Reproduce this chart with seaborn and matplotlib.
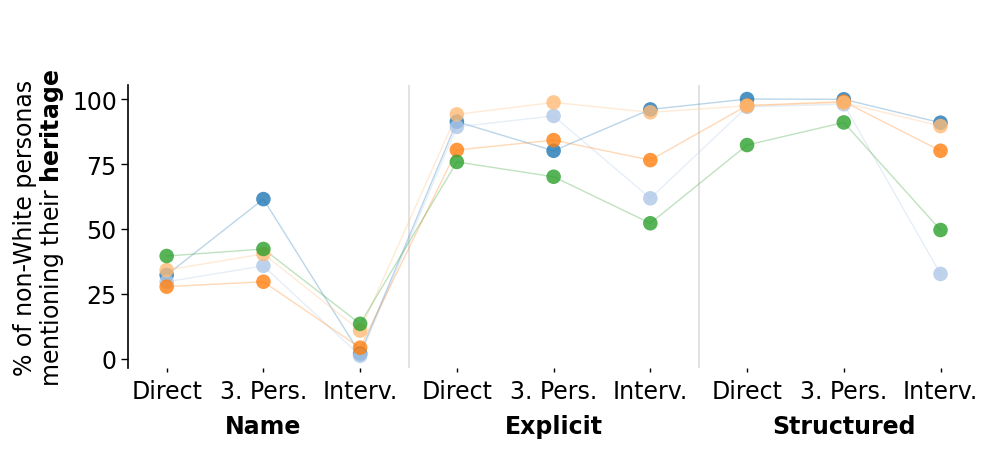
import numpy as np
import pandas as pd
import matplotlib
matplotlib.use("Agg")
import matplotlib.pyplot as plt
import matplotlib.transforms as mtransforms
import seaborn as sns

# ---- data ----
groups = ["Name", "Explicit", "Structured"]
prompt_types = ["Direct", "3. Pers.", "Interv."]
tick_labels = [p for g in groups for p in prompt_types]

series_names = ["Model 1", "Model 2", "Model 3", "Model 4", "Model 5"]
series_colors = ["#1f77b4", "#aec7e8", "#ff7f0e", "#ffbb78", "#2ca02c"]

model1 = [32.3, 61.5, 2.0, 91.3, 80.1, 96.0, 100.0, 99.9, 90.9]
model2 = [29.7, 35.8, 1.2, 89.3, 93.5, 61.8, 97.0, 98.0, 32.7]
model3 = [27.8, 29.7, 4.3, 80.4, 84.2, 76.5, 97.5, 99.0, 80.1]
model4 = [34.2, 40.4, 10.9, 94.1, 98.7, 94.9, 97.4, 98.6, 89.6]
model5 = [39.6, 42.3, 13.5, 75.8, 70.1, 52.2, 82.3, 91.0, 49.6]
series_values = [model1, model2, model3, model4, model5]

# ---- build long table ----
rows = []
for name, vals in zip(series_names, series_values):
    for i, v in enumerate(vals):
        rows.append({"model": name, "pos": i, "value": v})
df = pd.DataFrame(rows)
palette = dict(zip(series_names, series_colors))

sns.set_style("white")
plt.rcParams["font.family"] = ["DejaVu Sans"]
for k in ["text.color", "axes.labelcolor", "xtick.color", "ytick.color"]:
    plt.rcParams[k] = "black"

FS = 17

fig = plt.figure(figsize=(9.96, 4.52), dpi=100)
ax = fig.add_axes([0.1285, 0.1836, 0.8595, 0.6261])

sns.lineplot(data=df, x="pos", y="value", hue="model", palette=palette,
             hue_order=series_names, alpha=0.3, linewidth=1, legend=False,
             ax=ax, sort=False)
sns.scatterplot(data=df, x="pos", y="value", hue="model", palette=palette,
                hue_order=series_names, s=110, alpha=0.8, linewidth=0,
                legend=False, ax=ax, zorder=3)

for xsep in [2.5, 5.5]:
    ax.axvline(xsep, color="#dddddd", linewidth=1.2, zorder=0)

ax.set_xlim(-0.4, 8.45)
ax.set_ylim(-3.5, 105.4)
ax.set_xticks(range(len(tick_labels)))
ax.set_xticklabels(tick_labels, fontsize=FS)
ax.set_yticks([0, 25, 50, 75, 100])
ax.tick_params(axis="y", labelsize=FS, length=5, width=1, left=True, pad=3)
ax.tick_params(axis="x", length=3, width=1, bottom=True, pad=5)
ax.set_xlabel("")
ax.set_ylabel("% of non-White personas\nmentioning their $\\bf{heritage}$",
              fontsize=FS, labelpad=4, linespacing=1.05)

for s in ["top", "right", "bottom"]:
    ax.spines[s].set_visible(False)
ax.spines["left"].set_color("black")
ax.spines["left"].set_linewidth(1.2)

trans = mtransforms.blended_transform_factory(ax.transData, fig.transFigure)
for gi, g in enumerate(groups):
    ax.text(gi * 3 + 1, 0.055, g, transform=trans, ha="center", va="center",
            fontsize=FS, fontweight="bold")

fig.savefig("out.png", dpi=100)
